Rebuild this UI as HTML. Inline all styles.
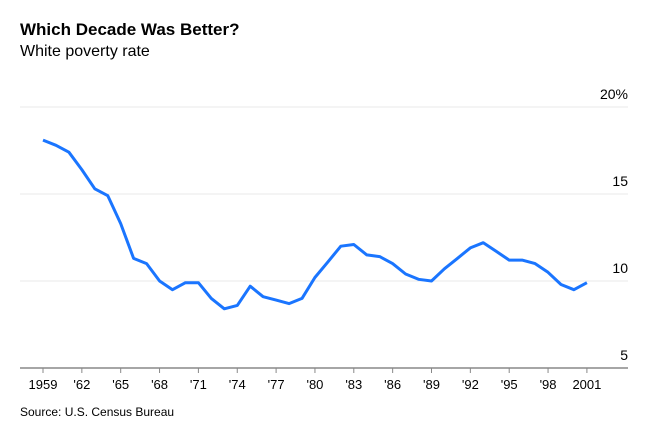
<!DOCTYPE html>
<html><head><meta charset="utf-8"><style>
body{margin:0;background:#fff;font-family:"Liberation Sans",sans-serif;}
#c{position:relative;width:661px;height:427px;overflow:hidden;}
</style></head><body>
<div id="c">
<svg width="661" height="427" xmlns="http://www.w3.org/2000/svg">
<text x="20" y="35" font-size="17" font-weight="bold" fill="#000">Which Decade Was Better?</text>
<text x="20" y="56" font-size="16" fill="#000">White poverty rate</text>
<g id="grid"></g>
<g id="xaxis"></g>
<path id="line" fill="none" stroke="#1a75ff" stroke-width="3" stroke-linejoin="round"/>
<text x="20" y="416" font-size="12" fill="#000">Source: U.S. Census Bureau</text>
</svg>
</div>
<script>
const years=[1959,1960,1961,1962,1963,1964,1965,1966,1967,1968,1969,1970,1971,1972,1973,1974,1975,1976,1977,1978,1979,1980,1981,1982,1983,1984,1985,1986,1987,1988,1989,1990,1991,1992,1993,1994,1995,1996,1997,1998,1999,2000,2001];
const values=[18.1,17.8,17.4,16.4,15.3,14.9,13.3,11.3,11.0,10.0,9.5,9.9,9.9,9.0,8.4,8.6,9.7,9.1,8.9,8.7,9.0,10.2,11.1,12.0,12.1,11.5,11.4,11.0,10.4,10.1,10.0,10.7,11.3,11.9,12.2,11.7,11.2,11.2,11.0,10.5,9.8,9.5,9.9];
const yTicks=[5,10,15,20];
const yTickLabels=["5","10","15","20%"];
const xTicks=[1959,1962,1965,1968,1971,1974,1977,1980,1983,1986,1989,1992,1995,1998,2001];
const xTickLabels=["1959","'62","'65","'68","'71","'74","'77","'80","'83","'86","'89","'92","'95","'98","2001"];
const NS="http://www.w3.org/2000/svg";
const X=y=>43+(y-1959)*12.95;
const Y=v=>368-(v-5)*17.4;
const grid=document.getElementById('grid');
yTicks.forEach((t,i)=>{
  if(t!==5){
    const l=document.createElementNS(NS,'line');
    
    
    l.setAttribute('x1',20);l.setAttribute('x2',628);
    l.setAttribute('y1',Y(t));l.setAttribute('y2',Y(t));
    l.setAttribute('stroke','#e8e8e8');l.setAttribute('stroke-width','1');
    grid.appendChild(l);
  }
  const tx=document.createElementNS(NS,'text');
  
  
  tx.setAttribute('x',628);tx.setAttribute('y',Y(t)-8);
  tx.setAttribute('text-anchor','end');tx.setAttribute('font-size','14');tx.setAttribute('fill','#000');
  tx.textContent=yTickLabels[i];
  grid.appendChild(tx);
});
const xa=document.getElementById('xaxis');
const ax=document.createElementNS(NS,'line');


ax.setAttribute('x1',20);ax.setAttribute('x2',628);ax.setAttribute('y1',368);ax.setAttribute('y2',368);
ax.setAttribute('stroke','#888');ax.setAttribute('stroke-width','1.5');
xa.appendChild(ax);
xTicks.forEach((t,i)=>{
  const l=document.createElementNS(NS,'line');
  
  
  l.setAttribute('x1',X(t));l.setAttribute('x2',X(t));l.setAttribute('y1',368);l.setAttribute('y2',373);
  l.setAttribute('stroke','#888');
  xa.appendChild(l);
  const tx=document.createElementNS(NS,'text');
  
  
  tx.setAttribute('x',X(t));tx.setAttribute('y',389);
  tx.setAttribute('text-anchor','middle');tx.setAttribute('font-size','13');tx.setAttribute('fill','#000');
  tx.textContent=xTickLabels[i];
  xa.appendChild(tx);
});
document.getElementById('line').setAttribute('d',years.map((y,i)=>(i?'L':'M')+X(y).toFixed(1)+','+Y(values[i]).toFixed(1)).join(''));
</script>
</body></html>
